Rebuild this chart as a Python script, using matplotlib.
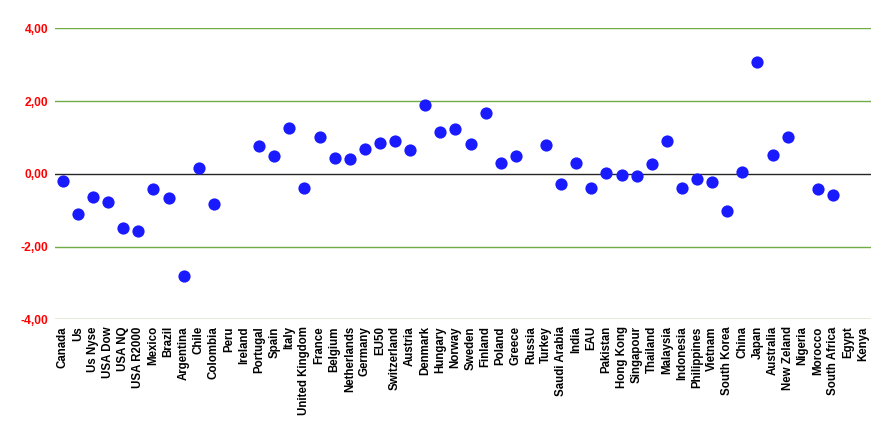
import matplotlib.pyplot as plt
import numpy as np

countries = ['Canada', 'Us', 'Us Nyse', 'USA Dow', 'USA NQ', 'USA R2000', 'Mexico', 'Brazil',
             'Argentina', 'Chile', 'Colombia', 'Peru', 'Ireland', 'Portugal', 'Spain', 'Italy',
             'United Kingdom', 'France', 'Belgium', 'Netherlands', 'Germany', 'EU50', 'Switzerland',
             'Austria', 'Denmark', 'Hungary', 'Norway', 'Sweden', 'Finland', 'Poland', 'Greece',
             'Russia', 'Turkey', 'Saudi Arabia', 'India', 'EAU', 'Pakistan', 'Hong Kong', 'Singapour',
             'Thailand', 'Malaysia', 'Indonesia', 'Philippines', 'Vietnam', 'South Korea', 'China',
             'Japan', 'Australia', 'New Zeland', 'Nigeria', 'Morocco', 'South Africa', 'Egypt', 'Kenya']
nan = np.nan
values = [-0.19, -1.10, -0.65, -0.77, -1.49, -1.56, -0.43, -0.67,
          -2.81, 0.17, -0.82, nan, nan, 0.77, 0.50, 1.26,
          -0.39, 1.01, 0.43, 0.40, 0.69, 0.86, 0.90,
          0.66, 1.88, 1.16, 1.23, 0.83, 1.68, 0.29, 0.50,
          nan, 0.79, -0.27, 0.30, -0.39, 0.02, -0.03, -0.06,
          0.28, 0.91, -0.39, -0.14, -0.22, -1.01, 0.04,
          3.06, 0.51, 1.00, nan, -0.42, -0.57, nan, nan]
yticks = [-4, -2, 0, 2, 4]
ytick_labels = ['-4,00', '-2,00', '0,00', '2,00', '4,00']

plt.rcParams['font.family'] = ['Liberation Sans', 'DejaVu Sans']

fig = plt.figure(figsize=(8.93, 4.36), dpi=100)
ax = fig.add_axes([55/893, 1-319.3/436, (871-55)/893, (319.3-28.3)/436])

x = np.arange(len(countries))
for t in [-4, -2, 2, 4]:
    ax.axhline(t, color='#70ad47', lw=1, zorder=1)
ax.axhline(0, color='#262626', lw=1, zorder=1)
ax.plot(x, values, 'o', color='#1a1aff', markersize=8.8, markeredgewidth=0, zorder=3)

ax.set_ylim(-4, 4)
ax.set_xlim(-0.52, len(countries) - 0.48)
ax.set_yticks(yticks)
ax.set_yticklabels(ytick_labels, color='red', fontweight='bold', fontsize=8.7)
ax.set_xticks(x)
ax.set_xticklabels(countries, rotation=90, fontweight='bold', fontsize=8.3)
ax.tick_params(axis='both', length=0)
ax.tick_params(axis='x', pad=5)
ax.tick_params(axis='y', pad=5)
for s in ax.spines.values():
    s.set_visible(False)

fig.savefig('out.png', dpi=100)
